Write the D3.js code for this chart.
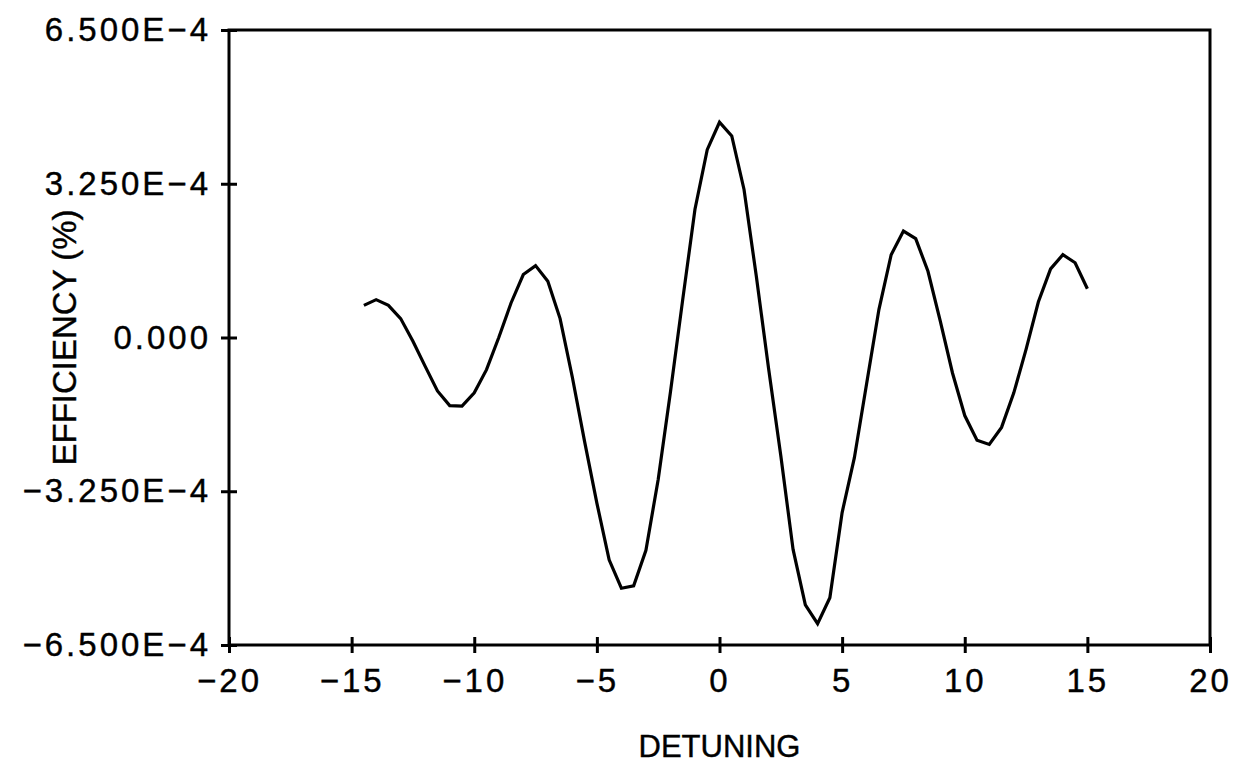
<!DOCTYPE html>
<html>
<head>
<meta charset="utf-8">
<script src="https://cdn.jsdelivr.net/npm/d3@7"></script>
<style>
  body { margin: 0; background: #fff; }
  svg text { font-family: "Liberation Sans", Arial, sans-serif; fill: #000; stroke: #000; stroke-width: 0.4px; }
</style>
</head>
<body>
<div id="chart"></div>
<script>
// detuning values (x) and efficiency, in units of 1e-4 %
const detuning = [-14.5, -14, -13.5, -13, -12.5, -12, -11.5, -11, -10.5, -10,
  -9.5, -9, -8.5, -8, -7.5, -7, -6.5, -6, -5.5, -5,
  -4.5, -4, -3.5, -3, -2.5, -2, -1.5, -1, -0.5, 0,
  0.5, 1, 1.5, 2, 2.5, 3, 3.5, 4, 4.5, 5,
  5.5, 6, 6.5, 7, 7.5, 8, 8.5, 9, 9.5, 10,
  10.5, 11, 11.5, 12, 12.5, 13, 13.5, 14, 14.5, 15];
const efficiencyE4 = [0.68, 0.80, 0.68, 0.40, -0.08, -0.61, -1.13, -1.44, -1.45, -1.17,
  -0.68, 0.00, 0.73, 1.33, 1.52, 1.19, 0.40, -0.84, -2.20, -3.50,
  -4.70, -5.30, -5.25, -4.50, -3.00, -1.15, 0.80, 2.71, 3.97, 4.55,
  4.26, 3.13, 1.30, -0.65, -2.50, -4.48, -5.65, -6.05, -5.50, -3.70,
  -2.54, -0.97, 0.59, 1.75, 2.25, 2.09, 1.40, 0.35, -0.75, -1.65,
  -2.17, -2.26, -1.90, -1.17, -0.25, 0.75, 1.45, 1.75, 1.58, 1.03];

const xTicks = [-20, -15, -10, -5, 0, 5, 10, 15, 20];
const xTickLabels = ["\u221220", "\u221215", "\u221210", "\u22125", "0", "5", "10", "15", "20"];
const yTicks = [-6.5e-4, -3.25e-4, 0, 3.25e-4, 6.5e-4];
const yTickLabels = ["\u22126.500E\u22124", "\u22123.250E\u22124", "0.000", "3.250E\u22124", "6.500E\u22124"];

const width = 1241, height = 767;
const margin = {top: 30, right: 31, bottom: 122, left: 229};
const innerW = width - margin.left - margin.right;
const innerH = height - margin.top - margin.bottom;

const svg = d3.select("#chart").append("svg")
  .attr("width", width)
  .attr("height", height);

const g = svg.append("g")
  .attr("transform", `translate(${margin.left},${margin.top})`);

const x = d3.scaleLinear().domain([-20, 20]).range([0, innerW]);
const y = d3.scaleLinear().domain([-6.5e-4, 6.5e-4]).range([innerH, 0]);

// frame
g.append("rect")
  .attr("width", innerW)
  .attr("height", innerH)
  .attr("fill", "none")
  .attr("stroke", "#000")
  .attr("stroke-width", 3);

// y axis, ticks cross the line
const yAxis = g.append("g")
  .call(d3.axisLeft(y).tickValues(yTicks)
    .tickFormat((d, i) => yTickLabels[i])
    .tickSize(8).tickPadding(10));
yAxis.select(".domain").remove();
yAxis.selectAll("line").attr("x2", -8).attr("x1", 8).attr("stroke-width", 3);
yAxis.selectAll("text")
  .style("font-size", "33px")
  .style("letter-spacing", "3px");

// x axis
const xAxis = g.append("g")
  .attr("transform", `translate(0,${innerH})`)
  .call(d3.axisBottom(x).tickValues(xTicks)
    .tickFormat((d, i) => xTickLabels[i])
    .tickSize(8).tickPadding(16));
xAxis.select(".domain").remove();
xAxis.selectAll("line").attr("y1", -8).attr("y2", 8).attr("stroke-width", 3);
xAxis.selectAll("text")
  .style("font-size", "33px")
  .style("letter-spacing", "3px");

// axis titles
svg.append("text")
  .attr("x", margin.left + x(0))
  .attr("y", 757)
  .attr("text-anchor", "middle")
  .style("font-size", "31px")
  .text("DETUNING");

svg.append("text")
  .attr("transform", `translate(76, ${margin.top + y(0)}) rotate(-90)`)
  .attr("text-anchor", "middle")
  .style("font-size", "33px")
  .text("EFFICIENCY (%)");

// the curve
const line = d3.line()
  .x((d, i) => x(detuning[i]))
  .y(d => y(d * 1e-4));

g.append("path")
  .datum(efficiencyE4)
  .attr("fill", "none")
  .attr("stroke", "#000")
  .attr("stroke-width", 3.2)
  .attr("stroke-linejoin", "miter")
  .attr("d", line);
</script>
</body>
</html>
